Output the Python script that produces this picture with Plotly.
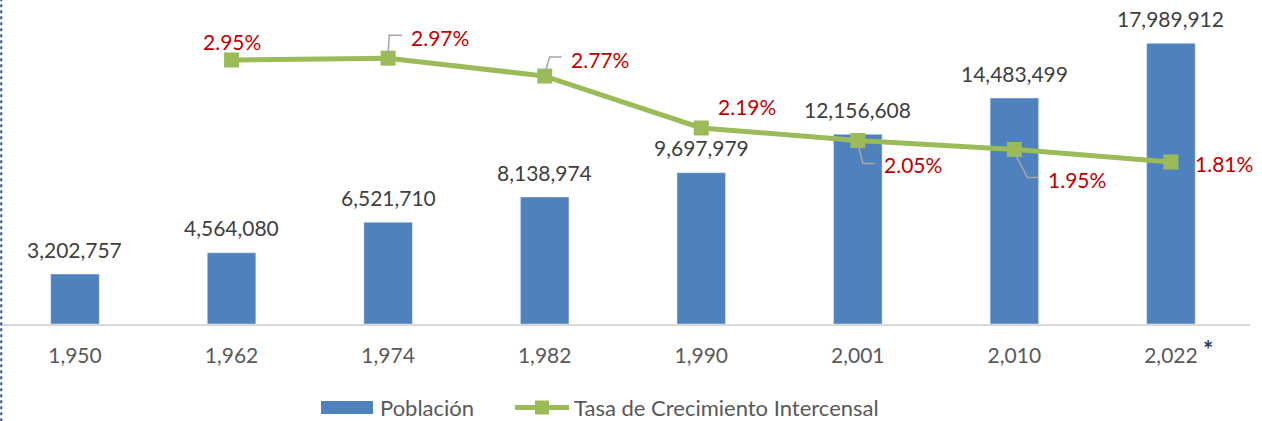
import plotly.graph_objects as go

years = ["1,950", "1,962", "1,974", "1,982", "1,990", "2,001", "2,010", "2,022"]
poblacion = [3202757, 4564080, 6521710, 8138974, 9697979, 12156608, 14483499, 17989912]
tasa_years = ["1,962", "1,974", "1,982", "1,990", "2,001", "2,010", "2,022"]
tasa = [2.95, 2.97, 2.77, 2.19, 2.05, 1.95, 1.81]
tasa_labels = ["2.95%", "2.97%", "2.77%", "2.19%", "2.05%", "1.95%", "1.81%"]
series_names = ["Población", "Tasa de Crecimiento Intercensal"]

# label offsets in pixels (dx, dy with dy positive = down) and leader paths
label_off = [(0, -18), (52, -21), (55, -17), (46, -21), (55, 24), (63, 30), (53, 1)]
leaders = [None,
           [(0, -3), (1, -23), (14, -23)],
           [(0, -2), (5, -19), (17, -19)],
           None,
           [(0, 3), (5, 23), (17, 23)],
           [(0, 3), (13, 28), (24, 28)],
           None]

FONT = "Lato"
BLUE = "#4f81bd"
GREEN = "#9bbb59"
RED = "#c00000"
GRAY = "#595959"

# plot area geometry in pixels (for the hand-drawn legend)
PL, PR, PT, PB = 0, 1250, 12, 324
def px(x):
    return (x - PL) / (PR - PL)
def py(y):
    return (PB - y) / (PB - PT)

fig = go.Figure()
fig.add_trace(go.Bar(x=years, y=poblacion, name=series_names[0], marker_color=BLUE,
                     width=0.31, yaxis="y", showlegend=False))
fig.add_trace(go.Scatter(x=tasa_years, y=tasa, name=series_names[1],
                         mode="lines+markers", yaxis="y2", showlegend=False,
                         line=dict(color=GREEN, width=5),
                         marker=dict(symbol="square", size=15, color=GREEN)))

annotations = []
for x, v in zip(years, poblacion):
    annotations.append(dict(x=x, y=v, xref="x", yref="y", text=f"{v:,}", showarrow=False,
                            yanchor="middle", yshift=25,
                            font=dict(family=FONT, size=21, color="#404040")))
shapes = []
for x, v, t, (dx, dy), ld in zip(tasa_years, tasa, tasa_labels, label_off, leaders):
    annotations.append(dict(x=x, y=v, xref="x", yref="y2", text=t, showarrow=False,
                            xanchor="center", yanchor="middle", xshift=dx, yshift=-dy,
                            font=dict(family=FONT, size=21, color=RED)))
    if ld:
        idx = years.index(x)
        path = "M" + " L".join(f"{a},{-b}" for a, b in ld)
        shapes.append(dict(type="path", xref="x", yref="y2", xsizemode="pixel",
                           ysizemode="pixel", xanchor=idx, yanchor=v, path=path,
                           line=dict(color="#a6a6a6", width=1.5)))

# asterisk next to last tick
annotations.append(dict(x=1.0, y=0, xref="paper", yref="paper", xshift=-42, yshift=-25,
                        xanchor="center", yanchor="middle",
                        text="<b>*</b>", showarrow=False,
                        font=dict(family=FONT, size=24, color="#1f3864")))

# dashed frame on the left edge
shapes.append(dict(type="line", xref="paper", yref="paper", x0=0.001, x1=0.001,
                   y0=-0.35, y1=1.1, line=dict(color="#2f5597", width=2, dash="dot")))

# hand-drawn legend
shapes.append(dict(type="rect", xref="paper", yref="paper", x0=px(321), x1=px(373),
                   y0=py(414), y1=py(401), fillcolor=BLUE, line=dict(width=0)))
annotations.append(dict(x=px(378), y=py(407.5), xref="paper", yref="paper",
                        xanchor="left", yanchor="middle", text=series_names[0],
                        showarrow=False, font=dict(family=FONT, size=22, color=GRAY)))
shapes.append(dict(type="line", xref="paper", yref="paper", x0=px(515), x1=px(569),
                   y0=py(407.5), y1=py(407.5), line=dict(color=GREEN, width=5)))
shapes.append(dict(type="rect", xref="paper", yref="paper", x0=px(535), x1=px(549),
                   y0=py(414.5), y1=py(400.5), fillcolor=GREEN, line=dict(width=0)))
annotations.append(dict(x=px(572), y=py(407.5), xref="paper", yref="paper",
                        xanchor="left", yanchor="middle", text=series_names[1],
                        showarrow=False, font=dict(family=FONT, size=22, color=GRAY)))

fig.update_layout(
    width=1262, height=421,
    margin=dict(l=PL, r=1262 - PR, t=PT, b=421 - PB, autoexpand=False),
    paper_bgcolor="white", plot_bgcolor="white",
    font=dict(family=FONT, color=GRAY),
    showlegend=False,
    xaxis=dict(type="category", range=[-0.479, 7.505], showgrid=False,
               showline=True, linecolor="#d9d9d9", linewidth=2,
               ticks="", ticklabelstandoff=12, automargin=False,
               tickfont=dict(family=FONT, size=21, color=GRAY)),
    yaxis=dict(range=[0, 20000000], visible=False, showgrid=False),
    yaxis2=dict(range=[0, 3.486], overlaying="y", side="right", visible=False,
                showgrid=False),
    annotations=annotations,
    shapes=shapes,
)

fig.write_html("out.html", config={"displayModeBar": False},
               post_script="document.body.style.margin='0';document.body.style.overflow='hidden';")
